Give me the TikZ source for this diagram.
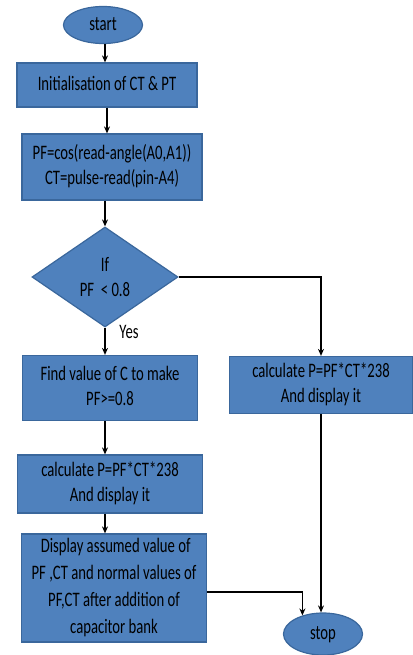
\documentclass[tikz,border=0pt]{standalone}
\usepackage{fontspec}
\setmainfont{Carlito}
\usetikzlibrary{shapes.geometric,arrows.meta}
\definecolor{boxfill}{HTML}{4F81BD}
\definecolor{boxline}{HTML}{3A679C}
\newcommand\tx[1]{\scalebox{1}[1.4]{\begin{tabular}{@{}c@{}}#1\end{tabular}}}
\begin{document}
\begin{tikzpicture}[x=1pt,y=-1pt,
  every node/.style={font=\fontsize{14.7}{17.9}\selectfont, inner sep=0pt},
  procbox/.style={rectangle, draw=boxline, fill=boxfill, line width=1.2pt},
  term/.style={ellipse, draw=boxline, fill=boxfill, line width=1.2pt},
  decision/.style={diamond, draw=boxline, fill=boxfill, line width=1.2pt},
  flow/.style={draw=black, line width=1.3pt, -{Stealth[length=7pt,width=6pt]}},
  flowline/.style={draw=black, line width=1.3pt}]
\useasboundingbox (0,0) rectangle (412,655);
\node[term, minimum width=79pt, minimum height=37pt] (start) at (103,25) {\tx{start}};
\node[procbox, minimum width=180pt, minimum height=44pt] (init) at (107,85) {\tx{Initialisation of CT \& PT}};
\node[procbox, minimum width=180pt, minimum height=66pt] (read) at (112,167) {\tx{PF=cos(read-angle(A0,A1))\\CT=pulse-read(pin-A4)}};
\node[decision, minimum width=146pt, minimum height=100pt] (if) at (105,277) {};
\node (iftext) at (105,279) {\tx{If\\PF \ < 0.8}};
\node (yes) at (129,333) {\tx{Yes}};
\node[procbox, minimum width=175pt, minimum height=65pt] (findC) at (110,388) {\tx{Find value of C to make\\PF>=0.8}};
\node[procbox, minimum width=183pt, minimum height=57pt] (calcR) at (321,385) {\tx{calculate P=PF*CT*238\\And display it}};
\node[procbox, minimum width=185pt, minimum height=58pt] (calcL) at (110,484) {\tx{calculate P=PF*CT*238\\And display it}};
\node[procbox, minimum width=185pt, minimum height=108pt] (disp) at (114,588) {\scalebox{1}[1.4]{\begin{tabular}{@{}c@{}}\ Display assumed value of\\[1.2pt]PF ,CT and normal values of\\[1.2pt]PF,CT after addition of\\[1.2pt]capacitor bank\end{tabular}}};
\node[term, minimum width=79pt, minimum height=42pt] (stop) at (323,634) {\tx{stop}};

\draw[flow] (105,0 |- start.south) -- (105,0 |- init.north);
\draw[flow] (107,0 |- init.south) -- (107,0 |- read.north);
\draw[flow] (if.north |- read.south) -- (if.north);
\draw[flow] (if.south) -- (if.south |- findC.north);
\draw[flow] (if.east) -| (calcR.north);
\draw[flow] (calcR.south) -- (calcR.south |- stop.north);
\draw[flow] (105,0 |- findC.south) -- (105,0 |- calcL.north);
\draw[flow] (105,0 |- calcL.south) -- (105,0 |- disp.north);
\draw[flow] ([yshift=-4pt]disp.east) -| (stop.138);
\end{tikzpicture}
\end{document}
